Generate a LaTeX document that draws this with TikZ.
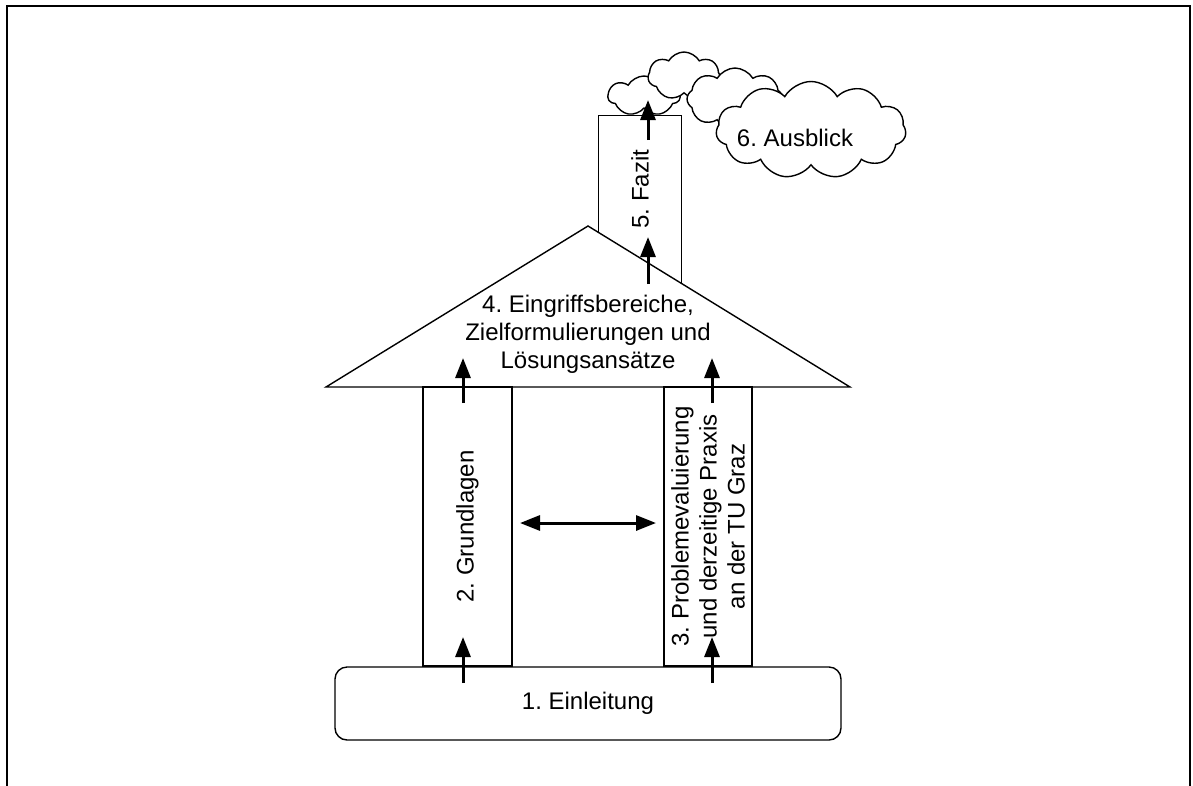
\documentclass[tikz,border=0pt]{standalone}
\usepackage{fontspec}
\setmainfont{Liberation Sans}
\usetikzlibrary{arrows.meta,shapes.symbols}
\begin{document}
\frenchspacing
\begin{tikzpicture}[x=1pt,y=-1pt,
  every node/.style={font=\fontsize{24}{28}\selectfont, inner sep=0pt},
  box/.style={draw, line width=1.4pt, fill=white},
  wolke/.style={cloud, draw, line width=1.4pt, fill=white, cloud puff arc=120},
  arr/.style={line width=3pt, -{Triangle[length=20pt,width=15pt]}},
  darr/.style={line width=3pt, {Triangle[length=20pt,width=15pt]}-{Triangle[length=20pt,width=15pt]}},
  frame/.style={line width=1.8pt}]
\useasboundingbox (0,0) rectangle (1193,785);
\draw[frame] (7,786) -- (7,6) -- (1190,6) -- (1190,786);
% clouds
\node[wolke, cloud puffs=7, aspect=1.8, minimum width=72, minimum height=40] (c1) at (644,96) {};
\node[wolke, cloud puffs=7, aspect=1.5, minimum width=72, minimum height=48] (c2) at (684,76) {};
\node[wolke, cloud puffs=8, aspect=1.55, minimum width=96, minimum height=62] (c3) at (735,99) {};
\node[wolke, cloud puffs=11, aspect=1.95, minimum width=190, minimum height=97] (c4) at (811,130) {};
\node (t6) at (795,138) {6. Ausblick};
% chimney
\node[box, minimum width=83, minimum height=180, anchor=north west] (chim) at (598,115) {};
\node[rotate=90] (t5) at (640,189) {5. Fazit};
% roof
\draw[box] (326,387) coordinate (rl) -- (588,226) coordinate (ra) -- (850,387) coordinate (rr) -- cycle;
\node[align=center] (t4) at (588,334) {4. Eingriffsbereiche,\\Zielformulierungen und\\Lösungsansätze};
% pillars
\node[box, rotate=90, minimum width=279, minimum height=89, align=center] (p2) at (467.5,526.5) {2. Grundlagen};
\node[box, rotate=90, minimum width=279, minimum height=88, align=center] (p3) at (708,526.5) {3. Problemevaluierung\\und derzeitige Praxis\\an der TU Graz};
% foundation
\node[box, rounded corners=12pt, minimum width=506, minimum height=73] (f1) at (588,703.5) {1. Einleitung};
% arrows
\coordinate (a1s) at (463,683); \coordinate (a1e) at (463,637);
\coordinate (a2s) at (712,683); \coordinate (a2e) at (712,637);
\coordinate (a3s) at (463,403); \coordinate (a3e) at (463,358);
\coordinate (a4s) at (712,403); \coordinate (a4e) at (712,358);
\coordinate (a5s) at (648,284); \coordinate (a5e) at (648,237);
\coordinate (a6s) at (648,140); \coordinate (a6e) at (648,100);
\coordinate (d1) at (520,523); \coordinate (d2) at (656,523);
\draw[arr] (a1s) -- (a1e);
\draw[arr] (a2s) -- (a2e);
\draw[arr] (a3s) -- (a3e);
\draw[arr] (a4s) -- (a4e);
\draw[arr] (a5s) -- (a5e);
\draw[arr] (a6s) -- (a6e);
\draw[darr] (d1) -- (d2);
\end{tikzpicture}
\end{document}
